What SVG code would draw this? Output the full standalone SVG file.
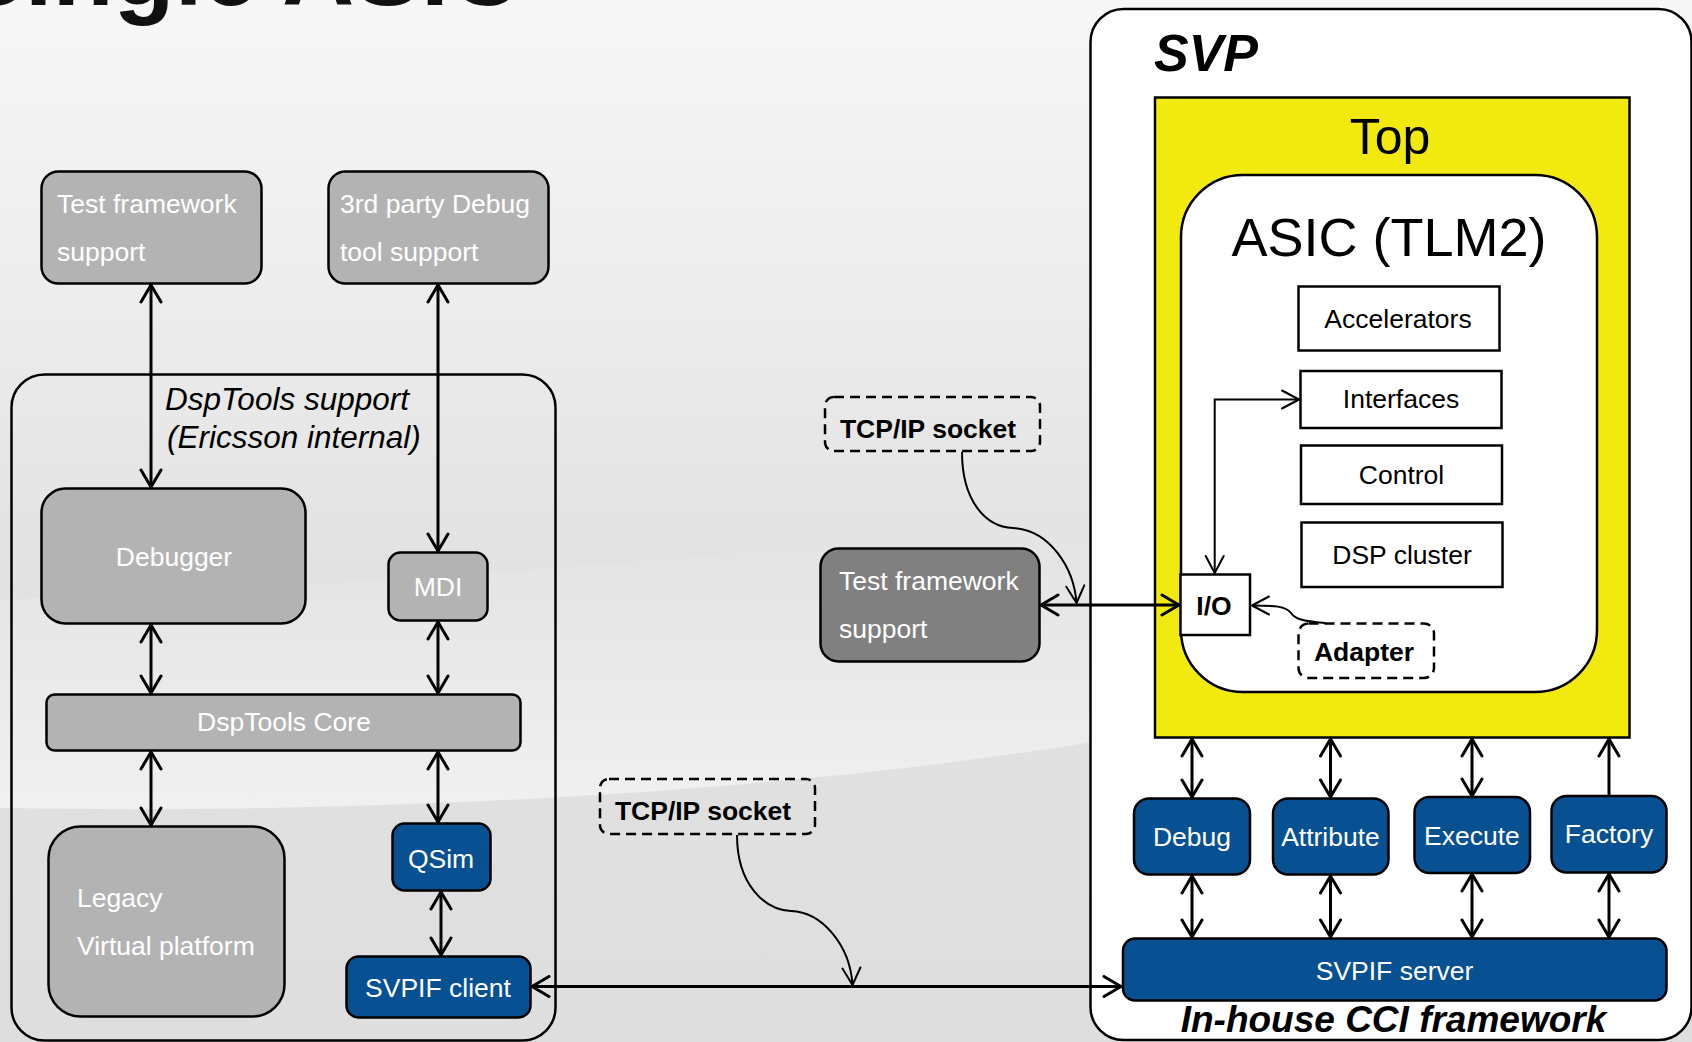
<svg xmlns="http://www.w3.org/2000/svg" width="1692" height="1042" viewBox="0 0 1692 1042">
  <defs>
    <linearGradient id="bg" x1="0" y1="0" x2="0" y2="1">
      <stop offset="0" stop-color="#f7f7f7"/>
      <stop offset="0.3" stop-color="#ececec"/>
      <stop offset="0.55" stop-color="#e2e2e2"/>
      <stop offset="1" stop-color="#dedede"/>
    </linearGradient>
    <linearGradient id="sweep" x1="0" y1="0" x2="0" y2="1">
      <stop offset="0" stop-color="#f3f4f3" stop-opacity="0"/>
      <stop offset="1" stop-color="#f1f2f1" stop-opacity="0.9"/>
    </linearGradient>
    <marker id="ah" viewBox="-20 -12 24 24" refX="0" refY="0" markerWidth="24" markerHeight="24" orient="auto-start-reverse" markerUnits="userSpaceOnUse">
      <path d="M-17,-10 L0,0 L-17,10" fill="none" stroke="#000" stroke-width="3" stroke-linejoin="round" stroke-linecap="round"/>
    </marker>
    <marker id="ahs" viewBox="-20 -12 24 24" refX="0" refY="0" markerWidth="24" markerHeight="24" orient="auto-start-reverse" markerUnits="userSpaceOnUse">
      <path d="M-17,-9 L0,0 L-17,9" fill="none" stroke="#000" stroke-width="2" stroke-linejoin="round" stroke-linecap="round"/>
    </marker>
  </defs>
  <style>
    .box{stroke:#000;stroke-width:2.5}
    .gray{fill:#b3b3b3}
    .dark{fill:#808080}
    .blue{fill:#075092}
    .white{fill:#fff}
    .t{font-family:"Liberation Sans",Arial,sans-serif;font-size:26.5px}
    .tw{fill:#fff}
    .tk{fill:#000}
    .c{text-anchor:middle}
    .b{font-weight:bold}
    .i{font-style:italic}
    .note{font-size:31.5px}
    .svp{font-size:52px}
    .cci{font-size:37px}
    .topl{font-size:50px}
    .asicl{font-size:54px}
    .dash{fill:none;stroke:#000;stroke-width:2.5;stroke-dasharray:10 6}
    .con{fill:none;stroke:#000;stroke-width:3;marker-start:url(#ah);marker-end:url(#ah)}
    .up{fill:none;stroke:#000;stroke-width:3;marker-start:url(#ah)}
    .thin{fill:none;stroke:#000;stroke-width:2}
  </style>

  <!-- slide background -->
  <rect x="0" y="0" width="1692" height="1042" fill="url(#bg)"/>
  <path d="M0,600 C300,590 700,560 1092,520 L1092,742 C800,790 400,815 0,808 Z" fill="url(#sweep)"/>

  <!-- slide title (runs off the top edge) -->
  <text x="-42" y="5" font-family="'Liberation Sans',Arial,sans-serif" font-size="100" font-weight="bold" fill="#111">Single ASIC</text>

  <!-- DspTools side -->
  <g id="dsptools">
    <rect x="11.5" y="374.5" width="544" height="666" rx="33" fill="none" stroke="#000" stroke-width="2.5"/>
    <text class="t tk i note" x="165" y="410">DspTools support</text>
    <text class="t tk i note" x="167" y="448">(Ericsson internal)</text>
  </g>

  <g id="test-framework-left">
    <rect class="box gray" x="41.5" y="171.5" width="220" height="112" rx="17"/>
    <text class="t tw" x="57" y="213">Test framework</text>
    <text class="t tw" x="57" y="261">support</text>
  </g>

  <g id="third-party-debug">
    <rect class="box gray" x="328.5" y="171.5" width="220" height="112" rx="17"/>
    <text class="t tw" x="340" y="213">3rd party Debug</text>
    <text class="t tw" x="340" y="261">tool support</text>
  </g>

  <g id="debugger">
    <rect class="box gray" x="41.5" y="488.5" width="264" height="135" rx="24"/>
    <text class="t tw c" x="174" y="566">Debugger</text>
  </g>

  <g id="mdi">
    <rect class="box gray" x="388.5" y="552.5" width="99" height="68" rx="12"/>
    <text class="t tw c" x="438" y="596">MDI</text>
  </g>

  <g id="dsptools-core">
    <rect class="box gray" x="46.5" y="694.5" width="474" height="56" rx="8"/>
    <text class="t tw c" x="284" y="731">DspTools Core</text>
  </g>

  <g id="legacy">
    <rect class="box gray" x="48.5" y="826.5" width="236" height="190" rx="32"/>
    <text class="t tw" x="77" y="907">Legacy</text>
    <text class="t tw" x="77" y="955">Virtual platform</text>
  </g>

  <g id="qsim">
    <rect class="box blue" x="392.5" y="823.5" width="98" height="67" rx="12"/>
    <text class="t tw c" x="441" y="868">QSim</text>
  </g>

  <g id="svpif-client">
    <rect class="box blue" x="346.5" y="956.5" width="184" height="61" rx="12"/>
    <text class="t tw c" x="438" y="997">SVPIF client</text>
  </g>

  <!-- middle: sockets and external test framework -->
  <g id="tcpip-upper">
    <rect class="dash" x="825" y="397" width="215" height="54" rx="9"/>
    <text class="t tk b c" x="928" y="438">TCP/IP socket</text>
  </g>

  <g id="test-framework-right">
    <rect class="box dark" x="820.5" y="548.5" width="219" height="113" rx="18"/>
    <text class="t tw" x="839" y="590">Test framework</text>
    <text class="t tw" x="839" y="638">support</text>
  </g>

  <g id="tcpip-lower">
    <rect class="dash" x="600" y="779" width="215" height="55" rx="9"/>
    <text class="t tk b c" x="703" y="820">TCP/IP socket</text>
  </g>

  <!-- SVP side -->
  <g id="svp">
    <rect x="1090.5" y="9" width="601" height="1031" rx="33" fill="#fff" stroke="#000" stroke-width="2.5"/>
    <text class="t tk b i svp" x="1154" y="71">SVP</text>
    <text class="t tk b i c cci" x="1393.5" y="1032">In-house CCI framework</text>
  </g>

  <g id="top">
    <rect x="1155" y="97.5" width="474.5" height="640" fill="#f2e90f" stroke="#000" stroke-width="2.5"/>
    <text class="t tk c topl" x="1390" y="154">Top</text>
  </g>

  <g id="asic">
    <rect x="1181" y="175" width="416" height="517" rx="62" fill="#fff" stroke="#000" stroke-width="2.5"/>
    <text class="t tk c asicl" x="1389" y="256">ASIC (TLM2)</text>
  </g>

  <g id="accelerators">
    <rect class="box white" x="1298.5" y="286.5" width="201" height="64"/>
    <text class="t tk c" x="1398" y="328">Accelerators</text>
  </g>

  <g id="interfaces">
    <rect class="box white" x="1300.5" y="371" width="201" height="57"/>
    <text class="t tk c" x="1401" y="408">Interfaces</text>
  </g>

  <g id="control">
    <rect class="box white" x="1301" y="445.5" width="201" height="58.5"/>
    <text class="t tk c" x="1401.5" y="484">Control</text>
  </g>

  <g id="dsp-cluster">
    <rect class="box white" x="1301.5" y="522.5" width="201" height="64.5"/>
    <text class="t tk c" x="1402" y="564">DSP cluster</text>
  </g>

  <g id="io">
    <rect class="box white" x="1180.5" y="574.5" width="69.5" height="60.5"/>
    <text class="t tk b c" x="1214" y="615">I/O</text>
  </g>

  <g id="adapter">
    <rect x="1298.5" y="623.5" width="135.5" height="54.5" rx="10" fill="#fff" stroke="#000" stroke-width="2.5" stroke-dasharray="10 6"/>
    <text class="t tk b c" x="1364" y="661">Adapter</text>
  </g>

  <g id="cci-debug">
    <rect class="box blue" x="1134" y="798.5" width="116" height="76" rx="15"/>
    <text class="t tw c" x="1192" y="846">Debug</text>
  </g>

  <g id="cci-attribute">
    <rect class="box blue" x="1273" y="798.5" width="115.5" height="76" rx="15"/>
    <text class="t tw c" x="1330.5" y="846">Attribute</text>
  </g>

  <g id="cci-execute">
    <rect class="box blue" x="1414.5" y="797" width="115.5" height="76" rx="15"/>
    <text class="t tw c" x="1472" y="844.5">Execute</text>
  </g>

  <g id="cci-factory">
    <rect class="box blue" x="1551.5" y="796" width="115" height="76.5" rx="15"/>
    <text class="t tw c" x="1609" y="843">Factory</text>
  </g>

  <g id="svpif-server">
    <rect class="box blue" x="1123" y="938.5" width="543.5" height="62" rx="12"/>
    <text class="t tw c" x="1394.5" y="980">SVPIF server</text>
  </g>

  <!-- connectors -->
  <g id="connectors">
    <!-- DspTools stack -->
    <path class="con" d="M151,285 L151,487"/>
    <path class="con" d="M438,285 L438,551"/>
    <path class="con" d="M151,625 L151,693"/>
    <path class="con" d="M438,622 L438,693"/>
    <path class="con" d="M151,752 L151,825"/>
    <path class="con" d="M438,752 L438,822"/>
    <path class="con" d="M441,892 L441,955"/>

    <!-- SVPIF client to server -->
    <path class="con" d="M532,986.5 L1121,986.5"/>
    <!-- test framework to I/O -->
    <path class="con" d="M1041,605 L1179,605"/>

    <!-- socket call-outs -->
    <path class="thin" marker-end="url(#ahs)" d="M962,452 C962,500 985,527 1013,528 C1050,530 1074,568 1076.5,603"/>
    <path class="thin" marker-end="url(#ahs)" d="M737,835 C737,885 765,910 791,911 C822,912 850,945 852.5,985"/>

    <!-- inside the ASIC -->
    <path class="thin" marker-start="url(#ahs)" marker-end="url(#ahs)" d="M1214.7,573 L1214.7,399.5 L1299,399.5"/>
    <path class="thin" marker-end="url(#ahs)" d="M1325,623 C1302,621 1295,619 1291,613 C1286,606 1274,605.5 1252,605.5"/>

    <!-- Top to CCI services -->
    <path class="con" d="M1192,739 L1192,797"/>
    <path class="con" d="M1330.5,739 L1330.5,797"/>
    <path class="con" d="M1472,739 L1472,796"/>
    <path class="up" d="M1609,739 L1609,795"/>

    <!-- CCI services to SVPIF server -->
    <path class="con" d="M1192,876 L1192,937"/>
    <path class="con" d="M1330.5,876 L1330.5,937"/>
    <path class="con" d="M1472,874 L1472,937"/>
    <path class="con" d="M1609,874 L1609,937"/>
  </g>
</svg>
